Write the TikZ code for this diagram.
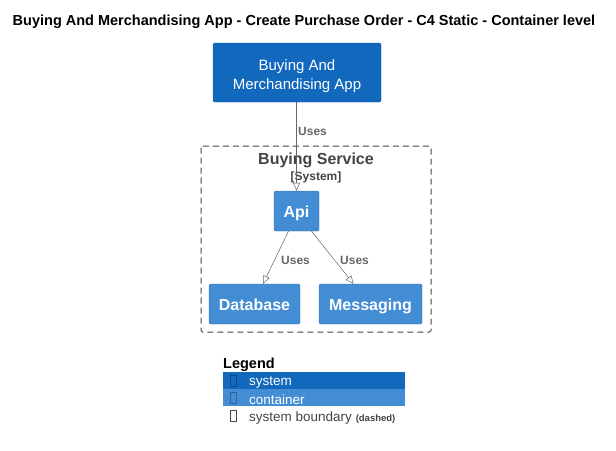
\documentclass[tikz,border=0pt]{standalone}
\usepackage{fontspec}
\setmainfont{Liberation Sans}
\usetikzlibrary{arrows.meta}
\definecolor{sysblue}{HTML}{1168BD}
\definecolor{contblue}{HTML}{438DD5}
\definecolor{relgray}{HTML}{666666}
\definecolor{bndgray}{HTML}{444444}

\begin{document}
\begin{tikzpicture}[x=1pt, y=-1pt,
  system/.style={fill=sysblue, draw=sysblue!80!black, line width=0.4pt, rounded corners=1.5pt, text=white, font=\fontsize{15}{19}\selectfont, align=center, inner sep=0pt},
  container/.style={fill=contblue, draw=contblue!80!black, line width=0.4pt, rounded corners=1.5pt, text=white, font=\fontsize{16}{19}\selectfont\bfseries, inner sep=0pt, text height=13.5pt, text depth=0pt},
  rel/.style={draw=relgray, line width=0.5pt, -{Triangle[open, length=8pt, width=7pt]}},
  rellabel/.style={text=relgray, font=\fontsize{12}{14}\selectfont\bfseries, anchor=west, inner sep=0pt},
  tofu/.style={draw=#1, line width=0.5pt},
  legendrow/.style={text=white, font=\fontsize{13.5}{15}\selectfont, anchor=west, inner sep=0pt}
  ]
\useasboundingbox (0,0) rectangle (616,450);

\node[font=\fontsize{14.5}{17}\selectfont\bfseries] (title) at (304,22) {Buying And Merchandising App - Create Purchase Order - C4 Static - Container level};

\node[system, minimum width=168pt, minimum height=59pt] (app) at (297,72.5) {};
\node[system, fill=none, draw=none] (apptext) at (297,76) {Buying And\\Merchandising App};

\draw[bndgray, dashed, dash pattern=on 6pt off 4pt, line width=1pt, rounded corners=1.5pt] (201,146) rectangle (431,332);
\coordinate (boundary) at (316,146);
\node[text=bndgray, font=\fontsize{16}{18}\selectfont\bfseries, inner sep=0pt] (bndname) at (316,160.5) {Buying Service};
\node[text=bndgray, font=\fontsize{12}{14}\selectfont\bfseries, inner sep=0pt] (bndtype) at (316,177.5) {[System]};

\node[container, minimum width=45pt, minimum height=40pt] (api) at (296.5,211) {Api};
\node[container, minimum width=91pt, minimum height=40pt] (database) at (254.5,304) {Database};
\node[container, minimum width=103pt, minimum height=40pt] (messaging) at (370.5,304) {Messaging};

\draw[rel] (app.south -| api) -- (api.north);
\node[rellabel] (uses1) at (298,131.5) {Uses};
\draw[rel] ([xshift=-8pt]api.south) -- ([xshift=8.5pt]database.north);
\node[rellabel] (uses2) at (281,260.5) {Uses};
\draw[rel] ([xshift=15pt]api.south) -- ([xshift=-17pt]messaging.north);
\node[rellabel] (uses3) at (340,260.5) {Uses};

% legend
\node[font=\fontsize{14.5}{16}\selectfont\bfseries, anchor=west, inner sep=0pt] (legend) at (223,364.5) {Legend};
\fill[sysblue] (223,372) rectangle (405,389);
\fill[contblue] (223,389) rectangle (405,406);
\draw[tofu=sysblue!70!black] (230,375.5) rectangle (236.5,386.5);
\draw[tofu=contblue!70!black] (230,392.5) rectangle (236.5,403.5);
\draw[tofu=bndgray] (230,410.5) rectangle (236.5,421.5);
\node[legendrow] (lsystem) at (249,383) {system};
\node[legendrow] (lcontainer) at (249,400) {container};
\node[legendrow, text=bndgray] (lboundary) at (249,418) {system boundary {\fontsize{9.5}{11}\selectfont\bfseries(dashed)}};
\end{tikzpicture}
\end{document}
